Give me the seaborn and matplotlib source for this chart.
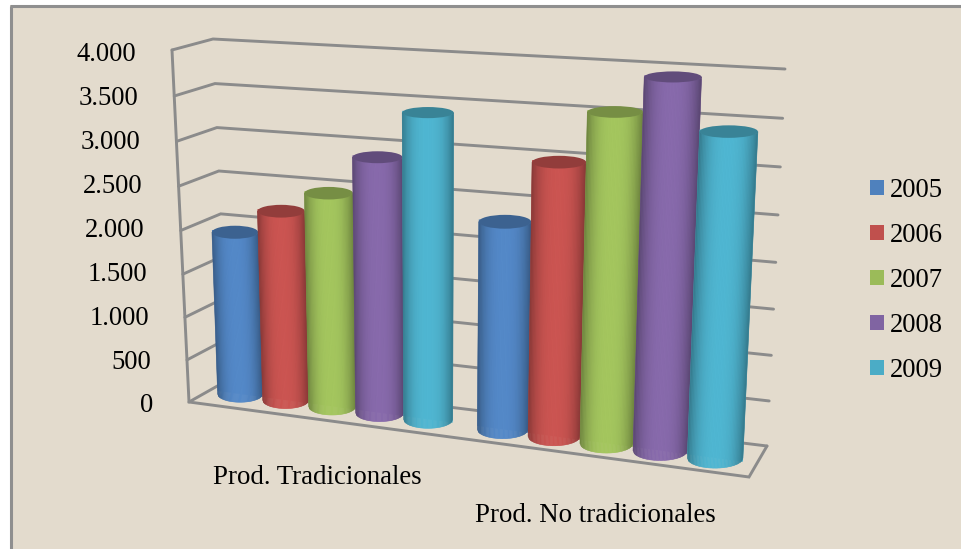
import numpy as np
import pandas as pd
import seaborn as sns
import matplotlib.pyplot as plt
from matplotlib.collections import PolyCollection
from matplotlib.colors import to_rgb
from matplotlib.patches import Ellipse, Rectangle
from matplotlib.transforms import Transform

# chart data
categories = ['Prod. Tradicionales', 'Prod. No tradicionales']
years = ['2005', '2006', '2007', '2008', '2009']
tradicionales = [1900, 2190, 2440, 2880, 3400]
no_tradicionales = [2300, 2980, 3540, 3930, 3420]
colors = ['#4F81BD', '#C0504D', '#9BBB59', '#8064A2', '#4BACC6']
y_ticks = [0, 500, 1000, 1500, 2000, 2500, 3000, 3500, 4000]
y_labels = ['0', '500', '1.000', '1.500', '2.000', '2.500', '3.000', '3.500', '4.000']

W, H = 961, 549
BG = '#E3DBCD'
GRID = '#8B8B8B'


# fake 3D view: category position + value -> pixel position
def height_frac(v):
    t = np.asarray(v, dtype=float) / 4000
    return t * 0.95 / (1 - 0.05 * t)


def floor_x(x):
    return (238.5 * x + 332) / (1 - 0.0591 * x)


def project(x, v):
    bx = floor_x(x)
    f = height_frac(v)
    px = bx + (bx - 433) * 0.057 * f
    base = 394 + 0.1347 * (bx - 240)
    py = base - (350 + 0.073 * (bx - 240)) * f
    return px, py


class View3D(Transform):
    input_dims = 2
    output_dims = 2
    is_affine = False

    def transform_non_affine(self, values):
        values = np.asarray(values, dtype=float)
        return np.column_stack(project(values[:, 0], values[:, 1]))


df = pd.DataFrame({
    'Categoria': np.repeat(categories, len(years)),
    'Año': years * 2,
    'Valor': tradicionales + no_tradicionales,
})

sns.set_theme(style='white')
plt.rcParams['font.family'] = ['Liberation Serif', 'DejaVu Serif']

fig = plt.figure(figsize=(W / 100, H / 100), dpi=100)
fig.patch.set_facecolor('white')

# background layer in pixel coordinates
bg = fig.add_axes([0, 0, 1, 1], zorder=0)
bg.set_xlim(0, W)
bg.set_ylim(H, 0)
bg.axis('off')
bg.add_patch(Rectangle((10, 5), W, H, facecolor=BG, edgecolor='none'))
bg.plot([11, 11], [H, 6], color='#8F8F8F', lw=2.2, solid_capstyle='butt')
bg.plot([10, W], [6, 6], color='#8F8F8F', lw=2.2, solid_capstyle='butt')


def corner(p0, p1, v):
    f = height_frac(v)
    return p0[0] + (p1[0] - p0[0]) * f, p0[1] + (p1[1] - p0[1]) * f


front_left = ((189, 402), (172, 50))
back_left = ((228, 380), (213, 39))
back_right = ((767, 446), (785, 69))
for v in y_ticks:
    a, b, c = corner(*front_left, v), corner(*back_left, v), corner(*back_right, v)
    bg.plot([a[0], b[0], c[0]], [a[1], b[1], c[1]], color=GRID, lw=2.1, solid_joinstyle='miter')
bg.plot([172, 189, 749, 767], [50, 402, 477, 446], color=GRID, lw=2.1, solid_joinstyle='miter')

# chart axes: 0 at y=403, 4000 at y=52
left, right = 189, 750
ax = fig.add_axes([left / W, (H - 403) / H, (right - left) / W, (403 - 52) / H], zorder=1)
ax.patch.set_visible(False)
sns.barplot(data=df, x='Categoria', y='Valor', hue='Año', palette=colors,
            width=0.91, gap=0, saturation=1, linewidth=0, ax=ax)
ax.set_xlim((left - 317) / 278, (right - 317) / 278)
ax.set_ylim(0, 4000)
ax.set_xlabel('')
ax.set_ylabel('')
sns.despine(ax=ax, left=True, bottom=True)

ax.set_yticks(y_ticks, y_labels)
ax.tick_params(axis='both', length=0, labelsize=19.2, labelcolor='black')
for tick, v in zip(ax.yaxis.get_major_ticks(), y_ticks):
    wall_x = corner(*front_left, v)[0]
    tick.set_pad((left - (wall_x - 36)) * 0.72)
for tick, pad in zip(ax.xaxis.get_major_ticks(), [62, 100]):
    tick.set_pad(pad * 0.72)
for lab in ax.get_xticklabels():
    lab.set_fontsize(19.4)

# turn the flat bars into shaded cylinders
view = View3D() + bg.transData
bars = [p for p in ax.patches if p.get_width() > 0]
bars.sort(key=lambda p: p.get_x())
u = np.linspace(-1, 1, 41)
for i, bar in enumerate(bars):
    x0, w, val = bar.get_x(), bar.get_width(), bar.get_height()
    base_col = np.array(to_rgb(bar.get_facecolor()))
    bar.set_transform(view)
    bar.set_clip_on(False)
    bar.set_zorder(3 + i * 3)

    xc = x0 + w / 2
    xb_l, yb = project(x0, 0)
    xb_r, yb_r = project(x0 + w, 0)
    xt_l, yt = project(x0, val)
    xt_r, yt_r = project(x0 + w, val)
    yb, yt = (yb + yb_r) / 2, (yt + yt_r) / 2
    f = float(height_frac(val))
    b_bot = 8.2 + (floor_x(xc) - 240) * 0.004
    b_top = b_bot * (1 - 0.45 * f)

    polys, shades = [], []
    for u0, u1 in zip(u[:-1], u[1:]):
        def edge(k):
            s = (k + 1) / 2
            bot = xb_l + (xb_r - xb_l) * s, yb + b_bot * np.sqrt(1 - k * k)
            top = xt_l + (xt_r - xt_l) * s, yt + b_top * np.sqrt(1 - k * k)
            return bot, top
        b0, t0 = edge(u0)
        b1, t1 = edge(u1)
        polys.append([b0, b1, t1, t0])
        m = (u0 + u1) / 2
        shade = 0.70 + 0.36 * (1 - abs(m) ** 2.6)
        shades.append(np.clip(base_col * shade, 0, 1))
    ax.add_collection(PolyCollection(polys, facecolors=shades, edgecolors=shades, linewidths=0.4,
                                     transform=bg.transData, clip_on=False, zorder=4 + i * 3),
                      autolim=False)
    ax.add_patch(Ellipse(((xt_l + xt_r) / 2, yt), xt_r - xt_l, 2 * b_top, facecolor=base_col * 0.76,
                         edgecolor='none', transform=bg.transData, clip_on=False, zorder=5 + i * 3))

sns.move_legend(ax, 'upper left', bbox_to_anchor=(870 / W, (H - 178) / H),
                bbox_transform=fig.transFigure, frameon=False, title=None, fontsize=19.2,
                labelcolor='black', handlelength=0.52, handleheight=0.52, handletextpad=0.24,
                labelspacing=0.75, borderpad=0, borderaxespad=0)
for handle in ax.get_legend().legend_handles:
    handle.set_linewidth(0)

fig.savefig('out.png', dpi=100)
